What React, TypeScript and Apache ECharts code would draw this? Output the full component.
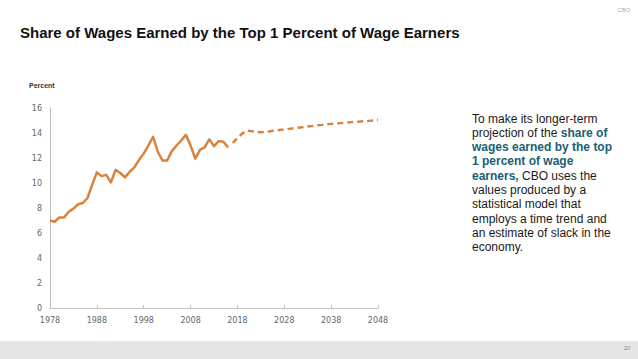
import React, { useEffect, useRef } from "react";
import * as echarts from "echarts";

const firstYear = 1978;
const lastYear = 2048;
const years: string[] = [];
for (let y = firstYear; y <= lastYear; y++) years.push(String(y));

// 1978–2016, actual
const historical = [
  7.0, 6.9, 7.25, 7.25, 7.7, 7.95, 8.3, 8.4, 8.8, 9.85,
  10.85, 10.55, 10.65, 10.05, 11.05, 10.8, 10.45, 10.9, 11.25, 11.85,
  12.35, 13.0, 13.7, 12.5, 11.8, 11.8, 12.55, 13.0, 13.4, 13.85,
  13.0, 11.95, 12.65, 12.85, 13.5, 12.95, 13.35, 13.3, 12.85,
];

// 2017–2048, projected
const projected = [
  13.2, 13.6, 13.95, 14.2, 14.15, 14.08, 14.06, 14.1, 14.14, 14.19,
  14.24, 14.29, 14.33, 14.38, 14.42, 14.47, 14.52, 14.56, 14.61, 14.65,
  14.7, 14.73, 14.76, 14.79, 14.82, 14.85, 14.88, 14.91, 14.94, 14.97,
  15.0, 15.04,
];

const yMin = 0;
const yMax = 16;
const yStep = 2;

const noteLines = [
  "{n|To make its longer-term}",
  "{n|projection of the }{b|share of}",
  "{b|wages earned by the top}",
  "{b|1 percent of wage}",
  "{b|earners,}{n| CBO uses the}",
  "{n|values produced by a}",
  "{n|statistical model that}",
  "{n|employs a time trend and}",
  "{n|an estimate of slack in the}",
  "{n|economy.}",
];

const ORANGE = "#D9823B";
const TEAL = "#215E73";
const FONT = "'Liberation Sans', Arial, Helvetica, sans-serif";
const AXISFONT = "'DejaVu Sans', Verdana, sans-serif";

export default function App() {
  const ref = useRef<HTMLDivElement>(null);

  useEffect(() => {
    if (!ref.current) return;
    const chart = echarts.init(ref.current, undefined, { renderer: "svg" });

    const histData = [...historical, ...projected.map(() => null)];
    const projData = [...historical.map(() => null), ...projected];

    const graphics: any[] = [
      {
        type: "text",
        x: 20,
        y: 32,
        style: {
          text: "Share of Wages Earned by the Top 1 Percent of Wage Earners",
          font: `bold 15px ${FONT}`,
          fill: "#111",
          verticalAlign: "middle",
        },
      },
      {
        type: "text",
        x: 624,
        y: 9.5,
        style: {
          text: "CBO",
          font: `6px ${FONT}`,
          fill: "#aaa",
          align: "center",
          verticalAlign: "middle",
        },
      },
      {
        type: "text",
        x: 29,
        y: 85,
        style: {
          text: "Percent",
          font: `bold 7px ${FONT}`,
          fill: "#333",
          verticalAlign: "middle",
        },
      },
      {
        type: "rect",
        shape: { x: 0, y: 341, width: 638, height: 18 },
        style: { fill: "#e6e6e6" },
        silent: true,
      },
      {
        type: "text",
        x: 627,
        y: 348,
        style: {
          text: "20",
          font: `6px ${FONT}`,
          fill: "#888",
          align: "center",
          verticalAlign: "middle",
        },
      },
    ];

    noteLines.forEach((line, i) => {
      graphics.push({
        type: "text",
        x: 472,
        y: 118.5 + i * 14.3,
        style: {
          text: line,
          verticalAlign: "middle",
          fill: "#1a1a1a",
          rich: {
            n: { fontFamily: FONT, fontSize: 12, fill: "#1a1a1a" },
            b: {
              fontFamily: FONT,
              fontSize: 12,
              fontWeight: "bold",
              fill: TEAL,
            },
          },
        },
      });
    });

    chart.setOption({
      animation: false,
      backgroundColor: "#ffffff",
      grid: { left: 50, right: 260, top: 108, bottom: 51, containLabel: false },
      xAxis: {
        type: "category",
        data: years,
        boundaryGap: false,
        axisLine: { show: true, lineStyle: { color: "#c0c0c0", width: 1 } },
        axisTick: {
          show: true,
          inside: true,
          length: 3,
          interval: 9,
          lineStyle: { color: "#c0c0c0" },
        },
        axisLabel: {
          interval: 9,
          margin: 8,
          color: "#666",
          fontFamily: AXISFONT,
          fontSize: 8,
        },
        splitLine: { show: false },
      },
      yAxis: {
        type: "value",
        min: yMin,
        max: yMax,
        interval: yStep,
        axisLine: { show: true, lineStyle: { color: "#c0c0c0", width: 1 } },
        axisTick: { show: false },
        axisLabel: {
          margin: 8,
          color: "#666",
          fontFamily: AXISFONT,
          fontSize: 8,
        },
        splitLine: { show: false },
      },
      series: [
        {
          type: "line",
          name: "Actual",
          data: histData,
          showSymbol: false,
          symbol: "none",
          lineStyle: { color: ORANGE, width: 2.5, join: "round" },
          itemStyle: { color: ORANGE },
        },
        {
          type: "line",
          name: "Projected",
          data: projData,
          showSymbol: false,
          symbol: "none",
          lineStyle: { color: ORANGE, width: 2.5, type: [6, 4] },
          itemStyle: { color: ORANGE },
        },
      ],
      graphic: graphics,
    });

    return () => chart.dispose();
  }, []);

  return (
    <div
      ref={ref}
      style={{
        position: "absolute",
        left: 0,
        top: 0,
        width: 638,
        height: 359,
        background: "#fff",
      }}
    />
  );
}
